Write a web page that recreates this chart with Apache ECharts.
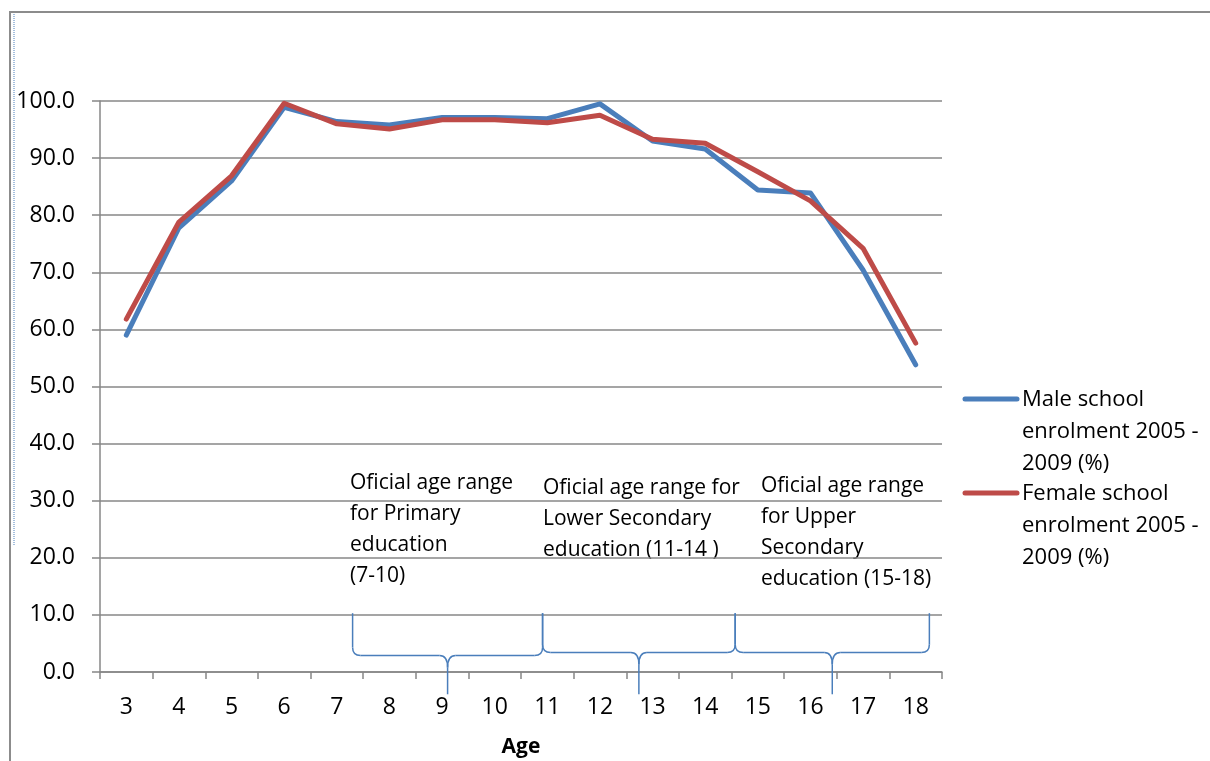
<!DOCTYPE html>
<html>
<head>
<meta charset="utf-8">
<script src="https://cdn.jsdelivr.net/npm/echarts@6/dist/echarts.min.js"></script>
<style>
  html, body { margin: 0; padding: 0; background: #fff; }
  #chart { width: 1210px; height: 761px; }
</style>
</head>
<body>
<div id="chart"></div>
<script>
// ages on the x axis
const ages = ['3', '4', '5', '6', '7', '8', '9', '10', '11', '12', '13', '14', '15', '16', '17', '18'];
// enrolment rates (%)
const maleEnrolment = [59.0, 77.8, 86.0, 98.9, 96.4, 95.8, 97.1, 97.1, 96.9, 99.5, 93.0, 91.6, 84.4, 83.9, 70.4, 53.8];
const femaleEnrolment = [61.8, 78.8, 86.9, 99.6, 96.0, 95.1, 96.7, 96.7, 96.2, 97.5, 93.3, 92.6, 87.6, 82.5, 74.2, 57.6];
const seriesNames = ['Male school\nenrolment 2005 -\n2009 (%)', 'Female school\nenrolment 2005 -\n2009 (%)'];
const seriesColors = ['#4a7ebb', '#be4b48'];
// official age ranges marked with braces (start age, end age)
const braceRanges = [[7.3, 10.91], [10.91, 14.57], [14.57, 18.26]];
const braceLabels = [
    'Oficial age range\nfor Primary\neducation\n(7-10)',
    'Oficial age range for\nLower Secondary\neducation (11-14 )',
    'Oficial age range\nfor Upper\nSecondary\neducation (15-18)'
];

const font = '"Open Sans", "Liberation Sans", sans-serif';
const gridGray = '#878787';

const chart = echarts.init(document.getElementById('chart'));

// brace drawn between two ages, with a cusp pointing down at its middle
function renderBrace(params, api) {
    const a = api.value(0), b = api.value(1), m = (a + b) / 2;
    const level = params.dataIndex === 0 ? 2.9 : 3.4;
    const r = 8;
    const top = api.coord([a, 10.3])[1];
    const yH = api.coord([a, level])[1];
    const yBot = api.coord([a, -3.9])[1];
    const xL = api.coord([a, 0])[0], xM = api.coord([m, 0])[0], xR = api.coord([b, 0])[0];
    const st = { stroke: '#4a7ebb', lineWidth: 1.5, fill: null };
    const ln = (x1, y1, x2, y2) => ({ type: 'line', shape: { x1, y1, x2, y2 }, style: st });
    const qc = (x1, y1, cx, cy, x2, y2) => ({ type: 'bezierCurve', shape: { x1, y1, cpx1: cx, cpy1: cy, x2, y2 }, style: st });
    return {
        type: 'group',
        children: [
            ln(xL, top, xL, yH - r),
            qc(xL, yH - r, xL, yH, xL + r, yH),
            ln(xL + r, yH, xM - r, yH),
            qc(xM - r, yH, xM, yH, xM, yH + r + 4),
            ln(xM, yH + r + 4, xM, yBot),
            qc(xM, yH + r + 4, xM, yH, xM + r, yH),
            ln(xM + r, yH, xR - r, yH),
            qc(xR - r, yH, xR, yH, xR, yH - r),
            ln(xR, yH - r, xR, top)
        ]
    };
}

const graphics = [
    // chart frame
    { type: 'line', shape: { x1: 9, y1: 12, x2: 1210, y2: 12 }, style: { stroke: '#8c8c8c', lineWidth: 2 } },
    { type: 'line', shape: { x1: 10, y1: 12, x2: 10, y2: 761 }, style: { stroke: '#8c8c8c', lineWidth: 2 } },
    { type: 'line', shape: { x1: 14, y1: 14, x2: 14, y2: 545 }, style: { stroke: '#4a7ebb', lineWidth: 1, lineDash: [1, 1] } }
];

// annotation text boxes
const labelPos = [[350, 468], [543, 473], [761, 471]];
braceLabels.forEach((t, i) => {
    graphics.push({
        type: 'text', left: labelPos[i][0], top: labelPos[i][1],
        style: { text: t, font: '21px ' + font, fill: '#000', lineHeight: 31 }
    });
});

// legend
seriesNames.forEach((name, i) => {
    const y = 399 + i * 94;
    graphics.push({ type: 'line', shape: { x1: 965, y1: y, x2: 1017, y2: y }, style: { stroke: seriesColors[i], lineWidth: 5, lineCap: 'round' } });
    graphics.push({ type: 'text', left: 1022, top: y - 15, style: { text: name, font: '22px ' + font, fill: '#000', lineHeight: 32 } });
});

chart.setOption({
    animation: false,
    backgroundColor: '#fff',
    grid: { left: 100, right: 268, top: 101, bottom: 89, containLabel: false, outerBoundsMode: 'none' },
    xAxis: [
        {
            type: 'category',
            data: ages,
            boundaryGap: true,
            name: 'Age',
            nameLocation: 'middle',
            nameGap: 65,
            nameTextStyle: { fontFamily: font, fontSize: 21, fontWeight: 'bold', color: '#000' },
            axisLine: { lineStyle: { color: gridGray, width: 1.5 } },
            axisTick: { show: true, length: 7, lineStyle: { color: gridGray, width: 1.5 } },
            axisLabel: { margin: 24, fontFamily: font, fontSize: 23, color: '#000' },
            splitLine: { show: false }
        },
        { type: 'value', min: 2.5, max: 18.5, show: false }
    ],
    yAxis: {
        type: 'value',
        min: 0,
        max: 100,
        interval: 10,
        axisLine: { show: true, lineStyle: { color: gridGray, width: 1.5 } },
        axisTick: { show: true, length: 8, lineStyle: { color: gridGray, width: 1.5 } },
        axisLabel: { margin: 25, fontFamily: font, fontSize: 23, color: '#000', formatter: v => v.toFixed(1) },
        splitLine: { show: true, lineStyle: { color: gridGray, width: 1.5 } }
    },
    series: [
        {
            name: seriesNames[0], type: 'line', data: maleEnrolment, showSymbol: false, clip: false,
            lineStyle: { color: seriesColors[0], width: 5, cap: 'round', join: 'round' }, z: 3
        },
        {
            name: seriesNames[1], type: 'line', data: femaleEnrolment, showSymbol: false, clip: false,
            lineStyle: { color: seriesColors[1], width: 5, cap: 'round', join: 'round' }, z: 4
        },
        {
            type: 'custom', xAxisIndex: 1, yAxisIndex: 0, clip: false, silent: true,
            data: braceRanges, renderItem: renderBrace, z: 5
        }
    ],
    graphic: graphics
});
</script>
</body>
</html>
